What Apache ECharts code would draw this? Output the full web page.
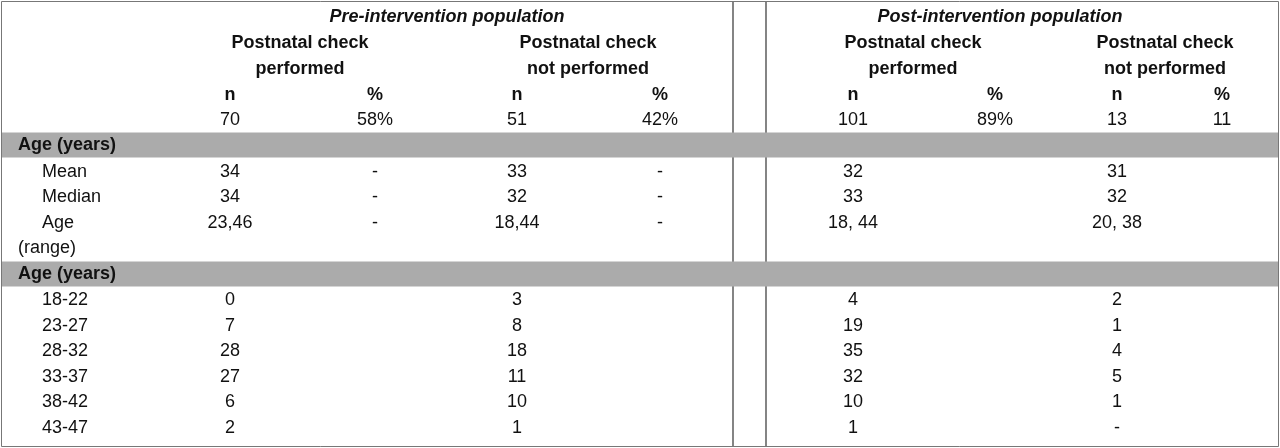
<!DOCTYPE html>
<html>
<head>
<meta charset="utf-8">
<script src="https://cdn.jsdelivr.net/npm/echarts@6/dist/echarts.min.js"></script>
<style>html,body{margin:0;padding:0;background:#fff}#main{width:1280px;height:448px}</style>
</head>
<body>
<div id="main"></div>
<script>
const groupTitles = ['Pre-intervention population', 'Post-intervention population'];
const subHeads = [['Postnatal check', 'performed'], ['Postnatal check', 'not performed'],
  ['Postnatal check', 'performed'], ['Postnatal check', 'not performed']];
const colHeads = ['n', '%', 'n', '%', 'n', '%', 'n', '%'];
const totals = ['70', '58%', '51', '42%', '101', '89%', '13', '11'];
const section1 = 'Age (years)';
const statLabels = ['Mean', 'Median', 'Age'];
const statRows = [
  ['34', '-', '33', '-', '32', '', '31', ''],
  ['34', '-', '32', '-', '33', '', '32', ''],
  ['23,46', '-', '18,44', '-', '18, 44', '', '20, 38', '']
];
const section2 = 'Age (years)';
const ageGroups = ['18-22', '23-27', '28-32', '33-37', '38-42', '43-47'];
const preDone = [0, 7, 28, 27, 6, 2];
const preNot = [3, 8, 18, 11, 10, 1];
const postDone = [4, 19, 35, 32, 10, 1];
const postNot = [2, 1, 4, 5, 1, '-'];

const chart = echarts.init(document.getElementById('main'));
const font = '"Liberation Sans", Arial, sans-serif';
const colX = [230, 375, 517, 660, 853, 995, 1117, 1222];
const subX = [300, 588, 913, 1165];
const titleX = [447, 1000];
const els = [];
function txt(x, y, s, opt) {
  opt = opt || {};
  els.push({type: 'text', x: x, y: y, z: 10, style: {
    text: String(s), fontFamily: font, fontSize: 18,
    fontWeight: opt.bold ? 'bold' : 'normal', fontStyle: opt.italic ? 'italic' : 'normal',
    fill: '#111', align: opt.align || 'center', verticalAlign: 'middle'}});
}
function band(y) {
  els.push({type: 'rect', shape: {x: 2, y: y - 12.5, width: 1276, height: 25}, z: 5, style: {fill: '#ababab'}});
}

groupTitles.forEach((t, i) => txt(titleX[i], 17, t, {bold: true, italic: true}));
subHeads.forEach((s, i) => { txt(subX[i], 43, s[0], {bold: true}); txt(subX[i], 69, s[1], {bold: true}); });
colHeads.forEach((s, i) => txt(colX[i], 95, s, {bold: true}));
totals.forEach((s, i) => txt(colX[i], 120, s));

band(145);
txt(18, 145, section1, {bold: true, align: 'left'});
statLabels.forEach((l, r) => {
  const y = 172 + r * 25.3;
  txt(42, y, l, {align: 'left'});
  statRows[r].forEach((v, i) => { if (v !== '') txt(colX[i], y, v); });
});
txt(18, 248, '(range)', {align: 'left'});

band(274);
txt(18, 274, section2, {bold: true, align: 'left'});
const cols = [preDone, null, preNot, null, postDone, null, postNot, null];
ageGroups.forEach((g, r) => {
  const y = 300 + r * 25.6;
  txt(42, y, g, {align: 'left'});
  cols.forEach((c, i) => { if (c) txt(colX[i], y, c[r]); });
});

// frame and dividers
els.push({type: 'rect', shape: {x: 1.5, y: 1.5, width: 1277, height: 445}, z: 1,
  style: {fill: null, stroke: '#777', lineWidth: 1}});
[733, 766].forEach(x => els.push({type: 'line', shape: {x1: x, y1: 2, x2: x, y2: 446}, z: 1,
  style: {stroke: '#333', lineWidth: 1.2}}));

chart.setOption({backgroundColor: '#fff', graphic: {elements: els}});
</script>
</body>
</html>
